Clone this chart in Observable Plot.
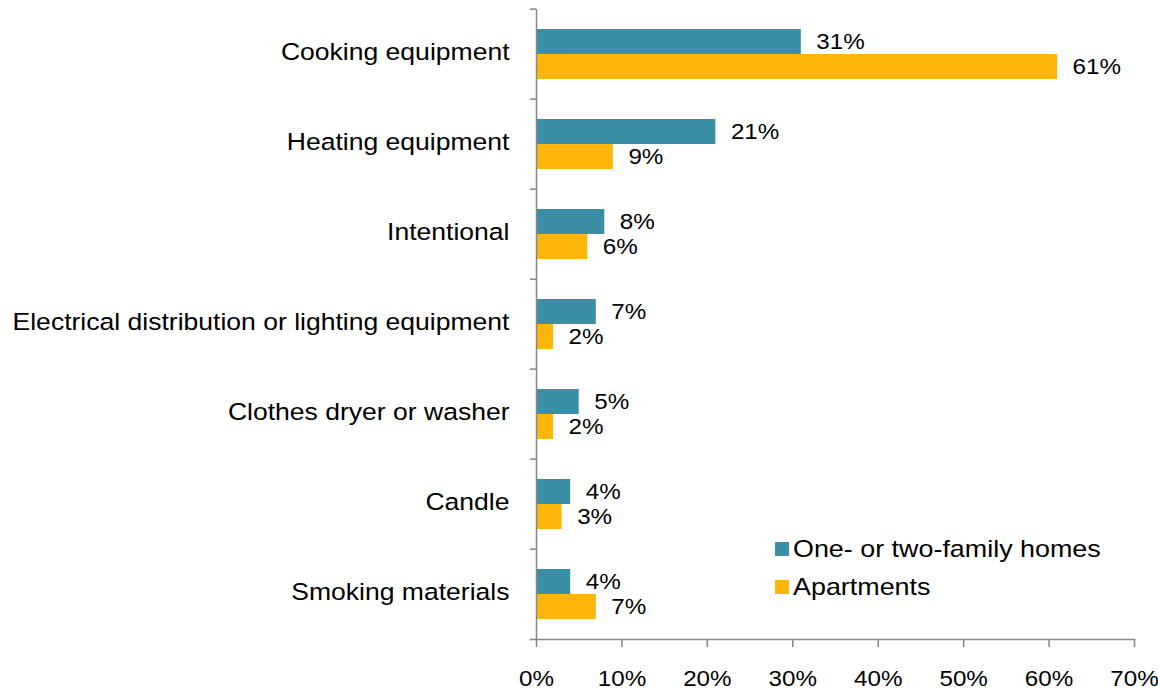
<!DOCTYPE html>
<html>
<head>
<meta charset="utf-8">
<script src="https://cdn.jsdelivr.net/npm/d3@7"></script>
<script src="https://cdn.jsdelivr.net/npm/@observablehq/plot@0.6"></script>
<style>
  body { margin: 0; background: #fff; font-family: "Liberation Sans", Arial, sans-serif; }
  #wrap { position: relative; width: 1158px; height: 692px; overflow: hidden; }
  .legend { position: absolute; left: 775px; top: 530px; font-size: 24px; color: #000; line-height: 38px; }
  .legend .item { display: flex; align-items: center; white-space: nowrap; }
  .legend .sw { width: 14px; height: 14px; margin-right: 4px; flex: none; }
  .legend .tx { display: inline-block; transform: scaleX(1.12); transform-origin: left center; }
</style>
</head>
<body>
<div id="wrap"></div>
<script>
const causes = [
  "Cooking equipment",
  "Heating equipment",
  "Intentional",
  "Electrical distribution or lighting equipment",
  "Clothes dryer or washer",
  "Candle",
  "Smoking materials"
];
const seriesNames = ["One- or two-family homes", "Apartments"];
const homes = [31, 21, 8, 7, 5, 4, 4];
const apartments = [61, 9, 6, 2, 2, 3, 7];
const seriesColors = ["#3A8FA6", "#FFB60B"];
const xTicks = [0, 10, 20, 30, 40, 50, 60, 70];

const data = [];
causes.forEach((c, i) => {
  data.push({cause: c, series: seriesNames[0], value: homes[i]});
  data.push({cause: c, series: seriesNames[1], value: apartments[i]});
});

const W = 1158, H = 692, mT = 6, mB = 51, mL = 536, mR = 24;
const bw = (H - mT - mB) / causes.length;
const axisColor = "#868686";

const chart = Plot.plot({
  width: W,
  height: H,
  marginTop: mT,
  marginBottom: mB,
  marginLeft: mL,
  marginRight: mR,
  style: {fontFamily: "'Liberation Sans', Arial, sans-serif", fontSize: "22px", color: "#000", background: "#fff", overflow: "visible"},
  x: {domain: [0, 70], axis: null},
  fy: {domain: causes, padding: 0, axis: null},
  y: {domain: seriesNames, paddingInner: 0, paddingOuter: 0.758, axis: null},
  color: {domain: seriesNames, range: seriesColors},
  marks: [
    Plot.barX(data, {fy: "cause", y: "series", x: "value", fill: "series"}),
    Plot.text(data, {fy: "cause", y: "series", x: "value", text: d => d.value + "%", textAnchor: "start", dx: 15, fill: "#000", fontSize: 22}),
    Plot.ruleX([0], {stroke: axisColor, strokeWidth: 1.5}),
    Plot.frame({anchor: "bottom", facetAnchor: "bottom", stroke: axisColor, strokeWidth: 1.5, insetLeft: -6}),
    Plot.axisX({anchor: "bottom", ticks: xTicks, tickFormat: d => d + "%", tickSize: 8, tickPadding: 23, stroke: axisColor, strokeWidth: 1.5, fill: "#000", fontSize: 22, label: null}),
    Plot.axisFy({anchor: "left", tickSize: 0, tickPadding: 27, fontSize: 23.7, label: null, fill: "#000", dy: -2}),
    Plot.axisFy({anchor: "left", tickSize: 6, text: null, stroke: axisColor, strokeWidth: 1.5, dy: -bw / 2, label: null})
  ]
});

const wrap = document.getElementById("wrap");
wrap.appendChild(chart);

// the reference text is horizontally widened: stretch glyphs with textLength
d3.select(chart).selectAll("text").each(function () {
  const el = this;
  const n = el.getComputedTextLength();
  if (!n) return;
  const inFy = el.closest('g[aria-label="fy-axis tick label"]');
  el.setAttribute("textLength", (n * (inFy ? 1.12 : 1.1)).toFixed(2));
  el.setAttribute("lengthAdjust", "spacingAndGlyphs");
});

// legend
const lg = document.createElement("div");
lg.className = "legend";
seriesNames.forEach((s, i) => {
  const it = document.createElement("div");
  it.className = "item";
  const sw = document.createElement("span");
  sw.className = "sw";
  sw.style.background = seriesColors[i];
  const tx = document.createElement("span");
  tx.className = "tx";
  tx.textContent = s;
  it.appendChild(sw);
  it.appendChild(tx);
  lg.appendChild(it);
});
wrap.appendChild(lg);
</script>
</body>
</html>
